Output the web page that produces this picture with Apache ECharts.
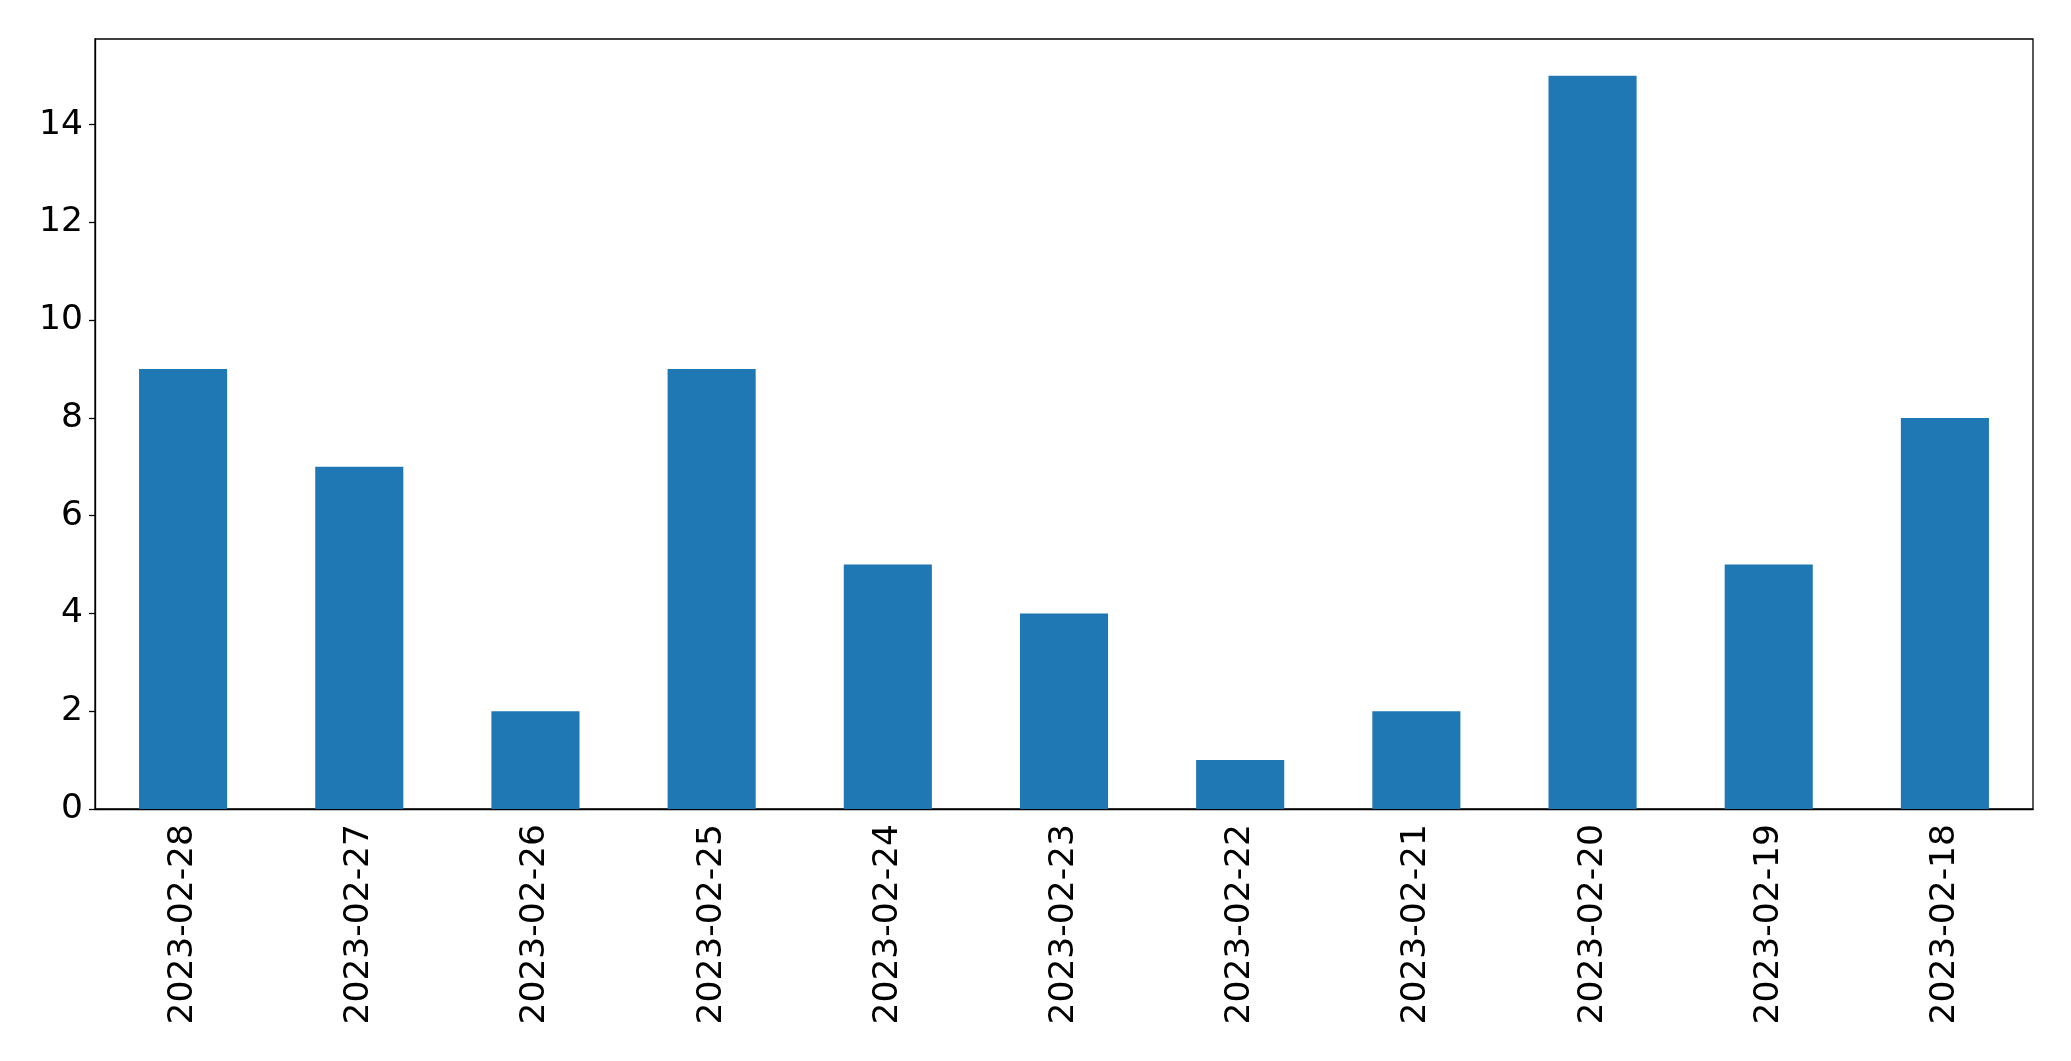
<!DOCTYPE html>
<html>
<head>
<meta charset="utf-8">
<script src="https://cdn.jsdelivr.net/npm/echarts@6/dist/echarts.min.js"></script>
<style>html,body{margin:0;padding:0;background:#fff;}#chart{width:2071px;height:1061px;}</style>
</head>
<body>
<div id="chart"></div>
<script>
const categories = ['2023-02-28','2023-02-27','2023-02-26','2023-02-25','2023-02-24','2023-02-23','2023-02-22','2023-02-21','2023-02-20','2023-02-19','2023-02-18'];
const values = [9, 7, 2, 9, 5, 4, 1, 2, 15, 5, 8];
const yTicks = [0, 2, 4, 6, 8, 10, 12, 14];

const chart = echarts.init(document.getElementById('chart'), null, {renderer: 'canvas'});
const font = 'DejaVu Sans';
chart.setOption({
  animation: false,
  backgroundColor: '#ffffff',
  grid: {left: 95, right: 38, top: 39, bottom: 252, show: true, borderColor: '#000', borderWidth: 1.3, backgroundColor: 'transparent'},
  xAxis: {
    type: 'category',
    data: categories,
    boundaryGap: true,
    axisLine: {lineStyle: {color: '#000', width: 1.3}},
    axisTick: {alignWithLabel: true, length: 6, lineStyle: {color: '#000', width: 1.3}},
    axisLabel: {rotate: 90, fontFamily: font, fontSize: 34.5, color: '#000', margin: 15, interval: 0}
  },
  yAxis: {
    type: 'value',
    min: 0,
    max: 15.75,
    interval: 2,
    splitLine: {show: false},
    axisLine: {show: true, lineStyle: {color: '#000', width: 1.3}},
    axisTick: {show: true, length: 6, customValues: yTicks, lineStyle: {color: '#000', width: 1.3}},
    axisLabel: {fontFamily: font, fontSize: 34.5, color: '#000', margin: 12, customValues: yTicks, padding: [6, 0, 0, 0]}
  },
  series: [{
    type: 'bar',
    data: values,
    barWidth: '50%',
    itemStyle: {color: '#1f77b4'}
  }]
});
</script>
</body>
</html>
